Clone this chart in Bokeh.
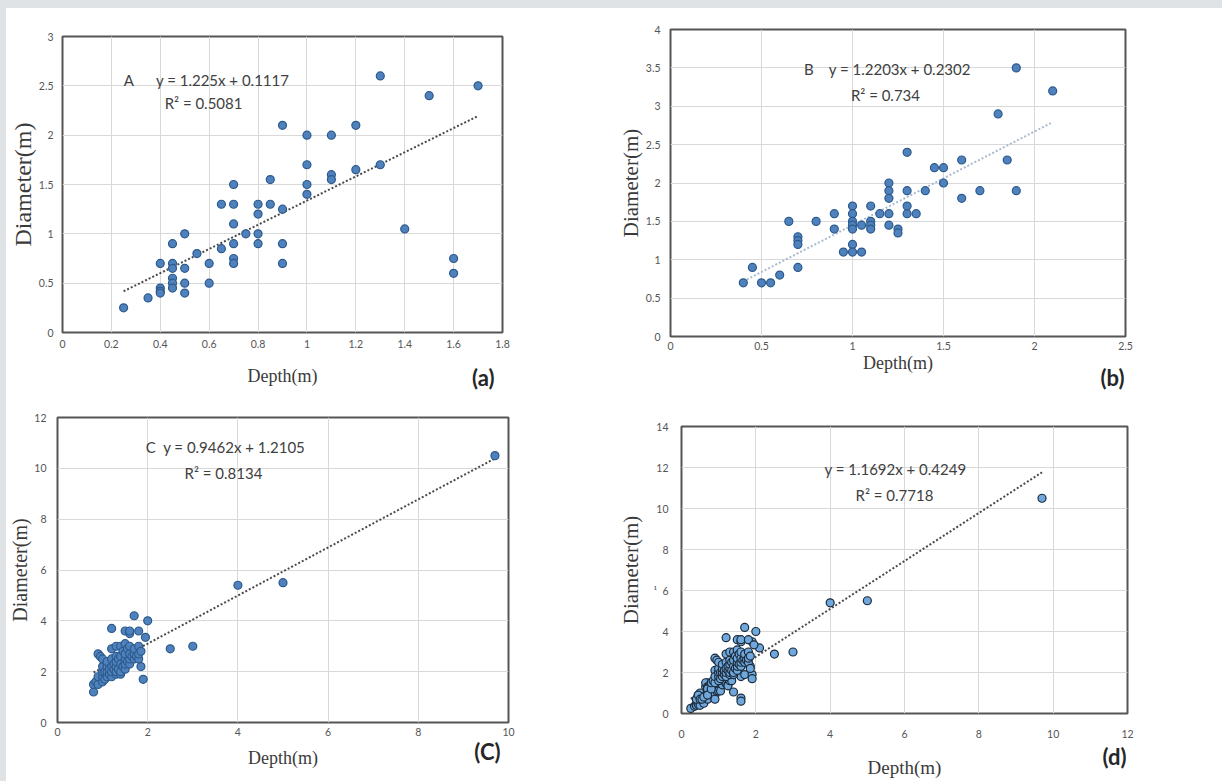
from bokeh.plotting import figure
from bokeh.models import Range1d, FixedTicker, NumeralTickFormatter, Label, Title, Spacer
from bokeh.layouts import column, row
from bokeh.embed import file_html
from bokeh.resources import INLINE

# ---------------- data ----------------
# Panel A
a_depth = [0.25, 0.35, 0.4, 0.4, 0.4, 0.4, 0.45, 0.45, 0.45, 0.45, 0.45, 0.45,
           0.5, 0.5, 0.5, 0.5, 0.55, 0.6, 0.6, 0.65, 0.65, 0.7, 0.7, 0.7, 0.7,
           0.7, 0.7, 0.75, 0.8, 0.8, 0.8, 0.8, 0.85, 0.85, 0.9, 0.9, 0.9, 0.9,
           1.0, 1.0, 1.0, 1.0, 1.1, 1.1, 1.1, 1.2, 1.2, 1.3, 1.3, 1.4, 1.5,
           1.6, 1.6, 1.7]
a_diam = [0.25, 0.35, 0.7, 0.45, 0.42, 0.4, 0.9, 0.7, 0.65, 0.55, 0.5, 0.45,
          1.0, 0.65, 0.5, 0.4, 0.8, 0.7, 0.5, 1.3, 0.85, 1.5, 1.3, 1.1, 0.9,
          0.75, 0.7, 1.0, 1.3, 1.2, 1.0, 0.9, 1.55, 1.3, 2.1, 1.25, 0.9, 0.7,
          2.0, 1.7, 1.5, 1.4, 2.0, 1.6, 1.55, 2.1, 1.65, 2.6, 1.7, 1.05, 2.4,
          0.75, 0.6, 2.5]
a_fit = (1.225, 0.1117)

# Panel B
b_depth = [0.4, 0.45, 0.5, 0.55, 0.6, 0.65, 0.7, 0.7, 0.7, 0.7, 0.8, 0.9, 0.9,
           0.95, 1.0, 1.0, 1.0, 1.0, 1.0, 1.0, 1.0, 1.05, 1.05, 1.1, 1.1, 1.1,
           1.1, 1.15, 1.2, 1.2, 1.2, 1.2, 1.2, 1.25, 1.25, 1.3, 1.3, 1.3, 1.3,
           1.35, 1.4, 1.45, 1.5, 1.5, 1.6, 1.6, 1.7, 1.8, 1.85, 1.9, 1.9, 2.1]
b_diam = [0.7, 0.9, 0.7, 0.7, 0.8, 1.5, 1.3, 1.25, 1.2, 0.9, 1.5, 1.6, 1.4,
          1.1, 1.7, 1.6, 1.5, 1.45, 1.4, 1.2, 1.1, 1.45, 1.1, 1.7, 1.5, 1.45,
          1.4, 1.6, 2.0, 1.9, 1.8, 1.6, 1.45, 1.4, 1.35, 2.4, 1.9, 1.7, 1.6,
          1.6, 1.9, 2.2, 2.2, 2.0, 2.3, 1.8, 1.9, 2.9, 2.3, 3.5, 1.9, 3.2]
b_fit = (1.2203, 0.2302)

# Panel C
c_depth = [0.8, 0.8, 0.85, 0.9, 0.9, 0.9, 0.95, 1.0, 1.0, 1.0, 1.0, 1.0, 1.05,
           1.05, 1.1, 1.1, 1.1, 1.1, 1.15, 1.15, 1.2, 1.2, 1.2, 1.2, 1.2, 1.2,
           1.25, 1.25, 1.3, 1.3, 1.3, 1.3, 1.3, 1.3, 1.35, 1.35, 1.4, 1.4, 1.4,
           1.4, 1.4, 1.45, 1.45, 1.5, 1.5, 1.5, 1.5, 1.5, 1.5, 1.55, 1.55, 1.6,
           1.6, 1.6, 1.6, 1.6, 1.6, 1.65, 1.7, 1.7, 1.7, 1.7, 1.75, 1.8, 1.8,
           1.8, 1.8, 1.85, 1.85, 1.9, 1.95, 2.0, 2.5, 3.0, 4.0, 5.0, 9.7]
c_diam = [1.2, 1.5, 1.6, 1.5, 1.8, 2.7, 2.6, 1.6, 1.8, 2.0, 2.2, 2.5, 1.7,
          2.0, 1.8, 2.0, 2.2, 2.4, 1.9, 2.1, 1.8, 2.0, 2.2, 2.5, 2.9, 3.7,
          2.1, 2.3, 1.9, 2.0, 2.2, 2.4, 2.6, 3.0, 2.1, 2.5, 1.9, 2.0, 2.3,
          2.6, 3.0, 2.2, 2.8, 2.1, 2.3, 2.5, 2.7, 3.1, 3.6, 2.4, 2.9, 2.3,
          2.5, 2.7, 3.0, 3.5, 3.6, 2.6, 2.5, 2.7, 2.9, 4.2, 2.6, 2.5, 2.7,
          3.0, 3.6, 2.2, 2.8, 1.7, 3.35, 4.0, 2.9, 3.0, 5.4, 5.5, 10.5]
c_fit = (0.9462, 1.2105)

# Panel D: all craters together
d_depth = a_depth + b_depth + c_depth
d_diam = a_diam + b_diam + c_diam
d_fit = (1.1692, 0.4249)

# tick positions
a_xticks = [0, 0.2, 0.4, 0.6, 0.8, 1.0, 1.2, 1.4, 1.6, 1.8]
a_yticks = [0, 0.5, 1.0, 1.5, 2.0, 2.5, 3.0]
b_xticks = [0, 0.5, 1.0, 1.5, 2.0, 2.5]
b_yticks = [0, 0.5, 1.0, 1.5, 2.0, 2.5, 3.0, 3.5, 4.0]
c_xticks = [0, 2, 4, 6, 8, 10]
c_yticks = [0, 2, 4, 6, 8, 10, 12]
d_xticks = [0, 2, 4, 6, 8, 10, 12]
d_yticks = [0, 2, 4, 6, 8, 10, 12, 14]

x_title = "Depth(m)"
y_title = "Diameter(m)"
NB = "\u00a0"

SANS = "Lato"
SERIF = "Liberation Serif"


def panel(xs, ys, fit, xticks, yticks, frame_w, frame_h, borders,
          xstand, ystand, ylab_size, xlab_size, eq1, eq2, eq_pos,
          tag, tag_standoff, tag_offset,
          marker_fill, marker_line, fit_color):
    left, right, top, bottom = borders
    p = figure(frame_width=frame_w, frame_height=frame_h,
               x_range=Range1d(xticks[0], xticks[-1]),
               y_range=Range1d(yticks[0], yticks[-1]),
               output_backend="svg", toolbar_location=None,
               min_border_left=left, min_border_right=right,
               min_border_top=top, min_border_bottom=bottom,
               background_fill_color="white", border_fill_color="white")
    p.outline_line_color = "#555555"
    p.outline_line_width = 2
    p.xgrid.grid_line_color = "#d9d9d9"
    p.ygrid.grid_line_color = "#d9d9d9"
    p.xaxis.ticker = FixedTicker(ticks=xticks)
    p.yaxis.ticker = FixedTicker(ticks=yticks)
    for ax in (p.xaxis[0], p.yaxis[0]):
        ax.formatter = NumeralTickFormatter(format="0.[0]")
        ax.axis_line_color = None
        ax.major_tick_line_color = None
        ax.minor_tick_line_color = None
        ax.major_tick_out = 0
        ax.major_tick_in = 0
        ax.major_label_text_font = SANS
        ax.major_label_text_font_size = "10.5px"
        ax.major_label_text_color = "#555555"
        ax.axis_label_text_font = SERIF
        ax.axis_label_text_font_style = "normal"
        ax.axis_label_text_color = "#3a3a3a"
    p.xaxis.axis_label = x_title
    p.yaxis.axis_label = y_title
    p.xaxis.axis_label_text_font_size = xlab_size
    p.yaxis.axis_label_text_font_size = ylab_size
    p.xaxis.major_label_standoff = xstand[0]
    p.xaxis.axis_label_standoff = xstand[1]
    p.yaxis.major_label_standoff = ystand[0]
    p.yaxis.axis_label_standoff = ystand[1]

    # trend line from min to max depth
    x0, x1 = min(xs), max(xs)
    m, c = fit
    p.line([x0, x1], [m * x0 + c, m * x1 + c], line_color=fit_color,
           line_width=2, line_dash="2 2")
    p.scatter(xs, ys, size=8, fill_color=marker_fill, line_color=marker_line,
              line_width=1.2)

    (ex1, ey1), (ex2, ey2) = eq_pos
    for (ex, ey, t) in ((ex1, ey1, eq1), (ex2, ey2, eq2)):
        p.add_layout(Label(x=ex, y=ey, text=t, text_align="center",
                           text_baseline="middle", text_font=SANS,
                           text_font_size="15px", text_color="#404040"))
    p.add_layout(Title(text=tag, align="right", vertical_align="top",
                       standoff=tag_standoff, offset=tag_offset,
                       text_font=SANS, text_font_size="22px",
                       text_font_style="bold", text_color="#262626"), "below")
    return p


pa = panel(a_depth, a_diam, a_fit, a_xticks, a_yticks, 440, 296,
           (56, 113, 28, 63), (7, 15), (9, 0), "24px", "18px",
           "A" + NB * 6 + "y = 1.225x + 0.1117", "R\u00b2 = 0.5081",
           ((0.589, 2.563), (0.577, 2.33)), "(a)", -50, 8,
           "#4f81bd", "#2c5a8c", "#4a4a4a")

pb = panel(b_depth, b_diam, b_fit, b_xticks, b_yticks, 455, 307,
           (53, 99, 21, 59), (5, 0), (10, 0), "21px", "18px",
           "B" + NB * 4 + "y = 1.2203x + 0.2302", "R\u00b2 = 0.734",
           ((1.192, 3.479), (1.181, 3.153)), "(b)", -24, 1,
           "#4f81bd", "#2c5a8c", "#a9bbcf")

pc = panel(c_depth, c_diam, c_fit, c_xticks, c_yticks, 451, 305,
           (51, 107, 22, 59), (5, 9), (11, 0), "20px", "18px",
           "C" + NB * 2 + "y = 0.9462x + 1.2105", "R\u00b2 = 0.8134",
           ((3.725, 10.82), (3.68, 9.83)), "(C)", -66, 8,
           "#4f81bd", "#2c5a8c", "#4a4a4a")

pd_ = panel(d_depth, d_diam, d_fit, d_xticks, d_yticks, 446, 287,
            (65, 96, 31, 68), (16, 16), (13, 8), "21px", "19px",
            "y = 1.1692x + 0.4249", "R\u00b2 = 0.7718",
            ((5.757, 11.95), (5.73, 10.68)), "(d)", -76, 1,
            "#6fa8dc", "#1c2a3a", "#4a4a4a")
# stray small "1" printed beside the 6 tick in the original figure
pd_.yaxis.major_label_overrides = {6: "\u00b9" + NB * 2 + "6"}

GRAY = {"background-color": "#dfe3e6"}
grid = column(row(column(pa), column(pb), spacing=0),
              row(column(pc), column(pd_), spacing=0), spacing=0)
layout = column(Spacer(width=1222, height=8, styles=GRAY),
                row(Spacer(width=6, height=773, styles=GRAY), grid, spacing=0),
                spacing=0)

open("out.html", "w").write(file_html(layout, INLINE))
